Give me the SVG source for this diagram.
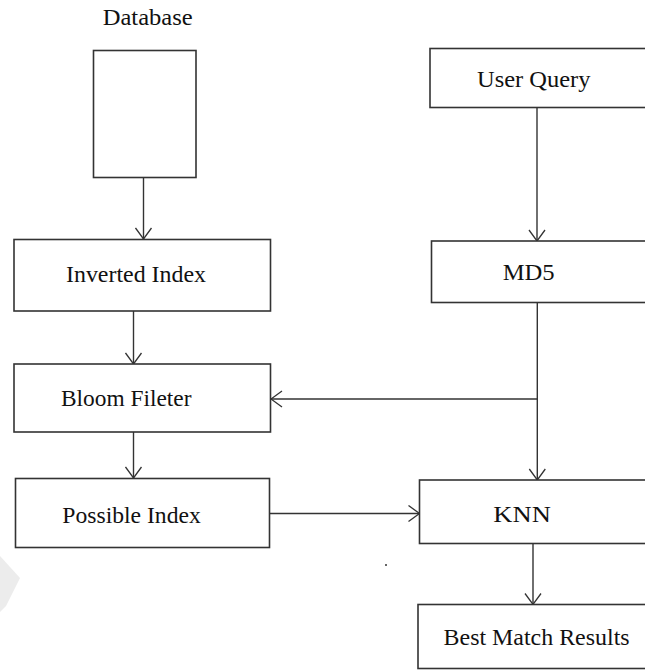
<svg xmlns="http://www.w3.org/2000/svg" width="645" height="671" viewBox="0 0 645 671">
<style>
  .box { fill: #fff; stroke: #333; stroke-width: 1.6; }
  .lbl { font-size: 24px; fill: #111; }
  .conn { fill: none; stroke: #333; stroke-width: 1.4; marker-end: url(#arr); }
</style>
<defs>
  <marker id="arr" viewBox="-12 -9 13 18" refX="0" refY="0" markerWidth="13" markerHeight="18" markerUnits="userSpaceOnUse" orient="auto">
    <path d="M-11,-8 L0,0 L-11,8" fill="none" stroke="#333" stroke-width="1.3"/>
  </marker>
</defs>
<rect width="645" height="671" fill="#fff"/>
<polygon points="0,556 20,578 6,606 0,612" fill="#ececec"/>
<g id="connectors">
  <path class="conn" d="M143.5,177 V239"/>
  <path class="conn" d="M133.5,311 V364"/>
  <path class="conn" d="M133.5,432 V478"/>
  <path class="conn" d="M537,107.5 V241"/>
  <path class="conn" d="M537.3,302.5 V480"/>
  <path class="conn" d="M537.3,399 H271"/>
  <path class="conn" d="M269.5,513.5 H419.5"/>
  <path class="conn" d="M533,543.5 V604.5"/>
</g>
<g font-family="'Liberation Serif', 'DejaVu Serif', serif">
<g id="database">
  <text class="lbl" x="102.7" y="25.3" textLength="90" lengthAdjust="spacingAndGlyphs">Database</text>
  <rect class="box" x="93.5" y="50.5" width="102.5" height="127"/>
</g>
<g id="inverted-index">
  <rect class="box" x="14" y="239.5" width="256.5" height="71.5"/>
  <text class="lbl" x="66" y="281.7" textLength="140" lengthAdjust="spacingAndGlyphs">Inverted Index</text>
</g>
<g id="bloom-filter">
  <rect class="box" x="14" y="364" width="256.5" height="68"/>
  <text class="lbl" x="61" y="406" textLength="130.5" lengthAdjust="spacingAndGlyphs">Bloom Fileter</text>
</g>
<g id="possible-index">
  <rect class="box" x="15.5" y="478.5" width="254" height="69"/>
  <text class="lbl" x="62.3" y="522.7" textLength="138.5" lengthAdjust="spacingAndGlyphs">Possible Index</text>
</g>
<g id="user-query">
  <rect class="box" x="430" y="48.5" width="230" height="59"/>
  <text class="lbl" x="477" y="87.3" textLength="113.5" lengthAdjust="spacingAndGlyphs">User Query</text>
</g>
<g id="md5">
  <rect class="box" x="431.5" y="241" width="230" height="61.5"/>
  <text class="lbl" x="502.7" y="280" textLength="52" lengthAdjust="spacingAndGlyphs">MD5</text>
</g>
<g id="knn">
  <rect class="box" x="419.5" y="480" width="240" height="63.5"/>
  <text class="lbl" x="493.3" y="521.7" textLength="57.5" lengthAdjust="spacingAndGlyphs">KNN</text>
</g>
<g id="best-match">
  <rect class="box" x="418" y="604.5" width="240" height="64"/>
  <text class="lbl" x="443.6" y="645" textLength="186" lengthAdjust="spacingAndGlyphs">Best Match Results</text>
</g>
</g>
<circle cx="386" cy="565" r="1" fill="#333"/>
</svg>
